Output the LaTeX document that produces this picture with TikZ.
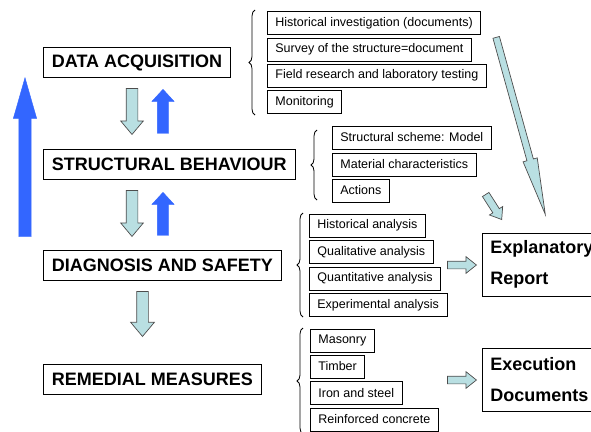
\documentclass[tikz,border=0pt]{standalone}
\usepackage{fontspec}
\setmainfont{Liberation Sans}
\usetikzlibrary{shapes.arrows,decorations.pathreplacing}
\definecolor{arrcyan}{HTML}{B9DFE2}
\definecolor{arrblue}{HTML}{3366FF}
\definecolor{arredge}{HTML}{4D4D4D}
\begin{document}
\begin{tikzpicture}[x=1pt,y=-1pt,
 mainbox/.style={draw=black, line width=0.8pt, anchor=west, inner xsep=8.5pt, inner ysep=0pt, minimum height=30pt, font=\fontsize{18}{21}\selectfont\bfseries},
 itembox/.style={draw=black, line width=0.8pt, anchor=west, inner xsep=8pt, inner ysep=0pt, minimum height=23pt, font=\fontsize{12.5}{15}\selectfont},
 bigbox/.style={draw=black, line width=0.8pt, anchor=west, inner xsep=8pt, inner ysep=0pt, align=left, text width=110pt, minimum height=63pt, font=\fontsize{18}{31}\selectfont\bfseries},
 cyanarrow/.style={shape=single arrow, draw=arredge, fill=arrcyan, line width=0.7pt, inner xsep=0pt, single arrow head indent=0pt, anchor=tip},
 bluearrow/.style={shape=single arrow, fill=arrblue, draw=arrblue, line width=0.4pt, inner xsep=0pt, single arrow head indent=0pt, anchor=tip},
 bracestyle/.style={decorate, decoration={brace, amplitude=6pt}, line width=0.8pt}
]
\useasboundingbox (0,0) rectangle (591,431);

% main boxes
\node[mainbox] (da) at (43,62.5) {DATA ACQUISITION};
\node[mainbox] (sb) at (43,164) {STRUCTURAL BEHAVIOUR};
\node[mainbox] (ds) at (43,265) {DIAGNOSIS AND SAFETY};
\node[mainbox] (rm) at (43,379.5) {REMEDIAL MEASURES};

% group 1
\draw[bracestyle] (255,115) -- (255,10);
\node[itembox] (g1a) at (267,23) {Historical investigation (documents)};
\node[itembox] (g1b) at (267,49.5) {Survey of the structure=document};
\node[itembox] (g1c) at (267,75.5) {Field research and laboratory testing};
\node[itembox] (g1d) at (267,102) {Monitoring};

% group 2
\draw[bracestyle] (317,200) -- (317,130);
\node[itembox] (g2a) at (332,137.5) {Structural scheme: Model};
\node[itembox] (g2b) at (332,164.5) {Material characteristics};
\node[itembox] (g2c) at (332,190.5) {Actions};

% group 3
\draw[bracestyle] (303,317) -- (303,213);
\node[itembox] (g3a) at (309,225.5) {Historical analysis};
\node[itembox] (g3b) at (309,252) {Qualitative analysis};
\node[itembox] (g3c) at (309,278.5) {Quantitative analysis};
\node[itembox] (g3d) at (309,305) {Experimental analysis};

% group 4
\draw[bracestyle] (303,434) -- (303,328);
\node[itembox] (g4a) at (310,340.5) {Masonry};
\node[itembox] (g4b) at (310,366.5) {Timber};
\node[itembox] (g4c) at (310,393) {Iron and steel};
\node[itembox] (g4d) at (310,419.5) {Reinforced concrete};

% big right boxes
\node[bigbox] (rep) at (482,264.5) {Explanatory\\Report};
\node[bigbox] (exe) at (482,380) {Execution\\Documents};

% block arrows (placed by their tips)
\node[bluearrow, inner ysep=6pt, minimum height=159pt, minimum width=23pt, single arrow head extend=5.5pt, single arrow tip angle=32, rotate=90] (bigup) at (25,77) {};
\node[cyanarrow, inner ysep=5.5pt, minimum height=46pt, minimum width=22pt, single arrow head extend=5.5pt, single arrow tip angle=80, rotate=-90] (down1) at (132,135) {};
\node[bluearrow, inner ysep=5.5pt, minimum height=44pt, minimum width=22pt, single arrow head extend=5.5pt, single arrow tip angle=85, rotate=90] (up1) at (163,89) {};
\node[cyanarrow, inner ysep=5.5pt, minimum height=46pt, minimum width=22pt, single arrow head extend=5.5pt, single arrow tip angle=80, rotate=-90] (down2) at (132,237) {};
\node[bluearrow, inner ysep=5.5pt, minimum height=43pt, minimum width=22pt, single arrow head extend=5.5pt, single arrow tip angle=85, rotate=90] (up2) at (163,192) {};
\node[cyanarrow, inner ysep=5.5pt, minimum height=45pt, minimum width=23pt, single arrow head extend=6pt, single arrow tip angle=80, rotate=-90] (down3) at (142.5,337) {};
\node[cyanarrow, inner ysep=3.5pt, minimum height=29pt, minimum width=16pt, single arrow head extend=4.5pt, single arrow tip angle=77] (right3) at (477,265) {};
\node[cyanarrow, inner ysep=3.5pt, minimum height=29pt, minimum width=16pt, single arrow head extend=4.5pt, single arrow tip angle=77] (right4) at (477,380) {};
\node[cyanarrow, inner ysep=3pt, minimum height=183.7pt, minimum width=14pt, single arrow head extend=4pt, single arrow tip angle=14.8, rotate=-74.5] (diag1) at (546,217) {};
\node[cyanarrow, inner ysep=3.5pt, minimum height=29.7pt, minimum width=15pt, single arrow head extend=4pt, single arrow tip angle=74, rotate=-57.4] (diag2) at (502,220) {};
\end{tikzpicture}
\end{document}
